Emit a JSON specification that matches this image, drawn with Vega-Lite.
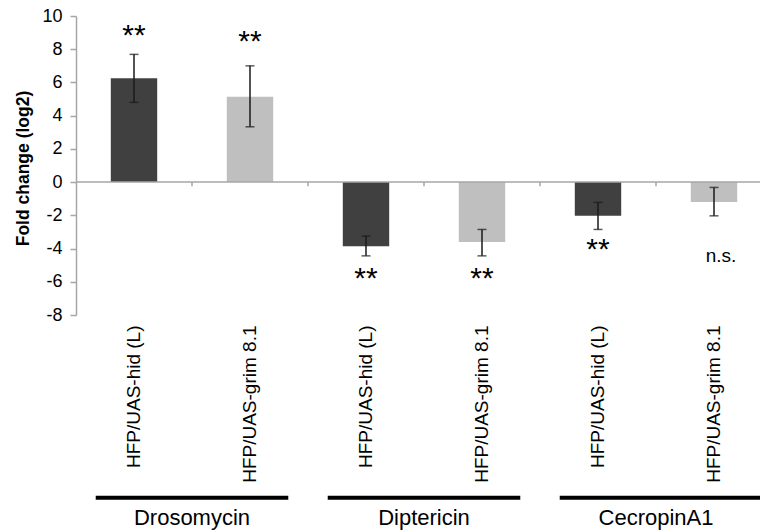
{
  "$schema": "https://vega.github.io/schema/vega-lite/v6.json",
  "width": 684,
  "height": 299,
  "autosize": {"type": "none"},
  "padding": {"left": 76, "top": 16, "right": 0, "bottom": 216},
  "background": "white",
  "config": {
    "view": {"stroke": null},
    "font": "Liberation Sans",
    "text": {"font": "Liberation Sans"},
    "axisY": {"labelExpr": "'' + datum.value", "labelOverlap": false, "grid": false, "tickSize": 6, "tickCount": 10, "domainColor": "#a6a6a6", "tickColor": "#a6a6a6", "domainWidth": 1.5, "tickWidth": 1.5, "labelFontSize": 18, "labelColor": "#000", "labelPadding": 8, "labelFlush": false, "labelFont": "Liberation Sans",
      "titleFontSize": 17.5, "titleFontWeight": "bold", "titleColor": "#000", "titleFont": "Liberation Sans", "titleX": -53, "titleY": 152, "titleAngle": -90, "titleAlign": "center", "titleBaseline": "middle"}
  },
  "datasets": {
    "bars": [
      {"key": "Drosomycin|HFP/UAS-hid (L)", "strain": "hid", "value": 6.25, "lo": 4.80, "hi": 7.69, "sig": "**", "sigY": 8.25},
      {"key": "Drosomycin|HFP/UAS-grim 8.1", "strain": "grim", "value": 5.14, "lo": 3.33, "hi": 7.00, "sig": "**", "sigY": 7.91},
      {"key": "Diptericin|HFP/UAS-hid (L)", "strain": "hid", "value": -3.86, "lo": -4.44, "hi": -3.25, "sig": "**", "sigY": -6.40},
      {"key": "Diptericin|HFP/UAS-grim 8.1", "strain": "grim", "value": -3.61, "lo": -4.44, "hi": -2.85, "sig": "**", "sigY": -6.40},
      {"key": "CecropinA1|HFP/UAS-hid (L)", "strain": "hid", "value": -2.03, "lo": -2.85, "hi": -1.22, "sig": "**", "sigY": -4.65},
      {"key": "CecropinA1|HFP/UAS-grim 8.1", "strain": "grim", "value": -1.19, "lo": -2.03, "hi": -0.32, "sig": "n.s.", "sigY": -4.82}
    ],
    "groups": [
      {"gene": "Drosomycin", "x0": 0.17, "x1": 1.83, "xc": 1, "lineY": -19.0, "labelY": -20.65},
      {"gene": "Diptericin", "x0": 2.17, "x1": 3.83, "xc": 3, "lineY": -19.0, "labelY": -20.65},
      {"gene": "CecropinA1", "x0": 4.17, "x1": 5.9, "xc": 5, "lineY": -19.0, "labelY": -20.65}
    ],
    "zeroline": [{"a": 0, "b": 6, "z": 0}],
    "cuts": [{"p": 1, "t0": 0, "t1": -0.25}, {"p": 2, "t0": 0, "t1": -0.25}, {"p": 3, "t0": 0, "t1": -0.25}, {"p": 4, "t0": 0, "t1": -0.25}, {"p": 5, "t0": 0, "t1": -0.25}]
  },
  "resolve": {"scale": {"x": "independent"}},
  "layer": [
    {
      "data": {"name": "bars"},
      "encoding": {
        "x": {
          "field": "key", "type": "nominal", "sort": null,
          "scale": {"range": [0, 696], "paddingInner": 0.6, "paddingOuter": 0.3},
          "axis": {"orient": "bottom", "domain": false, "ticks": false, "labelAngle": -90, "labelFontSize": 19, "labelPadding": 10, "labelColor": "#000", "labelLimit": 400, "labelOverlap": false, "labelExpr": "split(datum.value, '|')[1]", "title": null, "labelFont": "Liberation Sans"}
        }
      },
      "layer": [
        {
          "mark": {"type": "bar"},
          "encoding": {
            "y": {"field": "value", "type": "quantitative", "title": "Fold change (log2)",
              "scale": {"domain": [-8, 10], "nice": false, "zero": false},
              "axis": {"values": [-8, -6, -4, -2, 0, 2, 4, 6, 8, 10]}},
            "y2": {"datum": 0},
            "color": {"field": "strain", "type": "nominal", "scale": {"domain": ["hid", "grim"], "range": ["#404040", "#bfbfbf"]}, "legend": null}
          }
        },
        {
          "mark": {"type": "rule", "color": "#1a1a1a", "strokeWidth": 1.5},
          "encoding": {"y": {"field": "lo", "type": "quantitative", "title": "Fold change (log2)", "axis": {"values": [-8, -6, -4, -2, 0, 2, 4, 6, 8, 10]}}, "y2": {"field": "hi"}}
        },
        {
          "mark": {"type": "tick", "orient": "horizontal", "color": "#1a1a1a", "size": 9, "thickness": 1.5},
          "encoding": {"y": {"field": "hi", "type": "quantitative", "title": "Fold change (log2)", "axis": {"values": [-8, -6, -4, -2, 0, 2, 4, 6, 8, 10]}}}
        },
        {
          "mark": {"type": "tick", "orient": "horizontal", "color": "#1a1a1a", "size": 9, "thickness": 1.5},
          "encoding": {"y": {"field": "lo", "type": "quantitative", "title": "Fold change (log2)", "axis": {"values": [-8, -6, -4, -2, 0, 2, 4, 6, 8, 10]}}}
        },
        {
          "transform": [{"filter": "datum.sig == '**'"}],
          "mark": {"type": "text", "fontSize": 30, "baseline": "alphabetic", "align": "center", "color": "#000", "font": "Liberation Sans"},
          "encoding": {"y": {"field": "sigY", "type": "quantitative", "title": "Fold change (log2)", "axis": {"values": [-8, -6, -4, -2, 0, 2, 4, 6, 8, 10]}}, "text": {"field": "sig"}}
        },
        {
          "transform": [{"filter": "datum.sig == 'n.s.'"}],
          "mark": {"type": "text", "fontSize": 19, "baseline": "alphabetic", "align": "center", "dx": 7, "color": "#000", "font": "Liberation Sans"},
          "encoding": {"y": {"field": "sigY", "type": "quantitative", "title": "Fold change (log2)", "axis": {"values": [-8, -6, -4, -2, 0, 2, 4, 6, 8, 10]}}, "text": {"field": "sig"}}
        }
      ]
    },
    {
      "layer": [
        {
          "data": {"name": "zeroline"},
          "mark": {"type": "rule", "color": "#a6a6a6", "strokeWidth": 1.5},
          "encoding": {
            "x": {"field": "a", "type": "quantitative", "scale": {"domain": [0, 6], "range": [0, 696], "nice": false, "zero": false}, "axis": null},
            "x2": {"field": "b"},
            "y": {"field": "z", "type": "quantitative", "title": "Fold change (log2)", "axis": {"values": [-8, -6, -4, -2, 0, 2, 4, 6, 8, 10]}}
          }
        },
        {
          "data": {"name": "cuts"},
          "mark": {"type": "rule", "color": "#a6a6a6", "strokeWidth": 1.5},
          "encoding": {
            "x": {"field": "p", "type": "quantitative"},
            "y": {"field": "t0", "type": "quantitative", "title": "Fold change (log2)", "axis": {"values": [-8, -6, -4, -2, 0, 2, 4, 6, 8, 10]}},
            "y2": {"field": "t1"}
          }
        },
        {
          "data": {"name": "groups"},
          "mark": {"type": "rule", "color": "#000", "strokeWidth": 4},
          "encoding": {
            "x": {"field": "x0", "type": "quantitative"},
            "x2": {"field": "x1"},
            "y": {"field": "lineY", "type": "quantitative", "title": "Fold change (log2)", "axis": {"values": [-8, -6, -4, -2, 0, 2, 4, 6, 8, 10]}}
          }
        },
        {
          "data": {"name": "groups"},
          "mark": {"type": "text", "fontSize": 22, "baseline": "alphabetic", "align": "center", "color": "#000", "font": "Liberation Sans"},
          "encoding": {
            "x": {"field": "xc", "type": "quantitative"},
            "y": {"field": "labelY", "type": "quantitative", "title": "Fold change (log2)", "axis": {"values": [-8, -6, -4, -2, 0, 2, 4, 6, 8, 10]}},
            "text": {"field": "gene"}
          }
        }
      ]
    }
  ]
}
